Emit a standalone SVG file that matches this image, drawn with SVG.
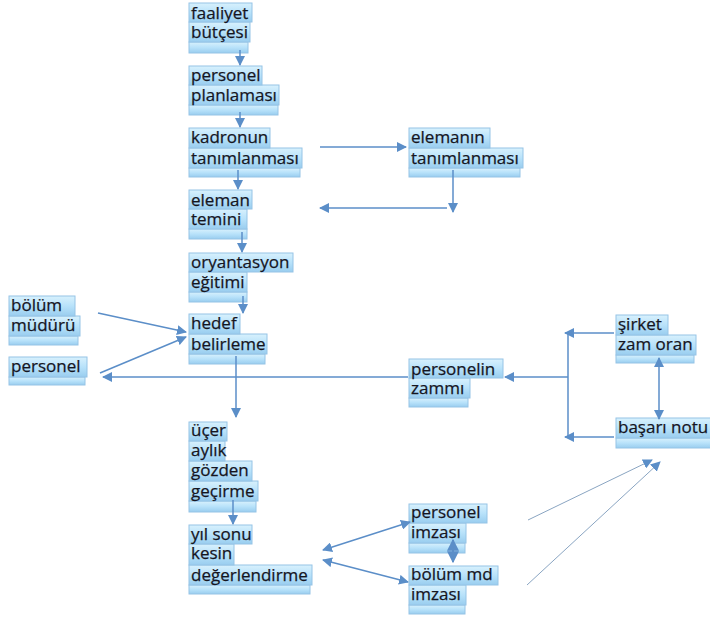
<svg xmlns="http://www.w3.org/2000/svg" width="710" height="620" viewBox="0 0 710 620">
<defs>
<linearGradient id="g" x1="0" y1="0" x2="0" y2="1">
<stop offset="0" stop-color="#d8f1fd"/>
<stop offset="0.5" stop-color="#b8e2fa"/>
<stop offset="1" stop-color="#99cdef"/>
</linearGradient>
<marker id="ah" viewBox="0 0 10 10" refX="9" refY="5" markerWidth="10" markerHeight="10" markerUnits="userSpaceOnUse" orient="auto-start-reverse">
<path d="M0,0 L10,5 L0,10 z" fill="#5b8ec8"/>
</marker>
<marker id="ah2" viewBox="0 0 10 10" refX="9" refY="5" markerWidth="12" markerHeight="12" markerUnits="userSpaceOnUse" orient="auto-start-reverse">
<path d="M0,0 L10,5 L0,10 z" fill="#5b8ec8"/>
</marker>
</defs>
<style>
.b{fill:url(#g);stroke:#96c4e6;stroke-width:1}
.s{fill:url(#g);stroke:#96c4e6;stroke-width:1}
.t{font-family:"Open Sans","Liberation Sans",sans-serif;font-size:17px;fill:#15151f;stroke:#15151f;stroke-width:0.25}
.c{fill:none;stroke:#5b8ec8;stroke-width:1.5}
.c1{marker-end:url(#ah)}
.c2{marker-start:url(#ah);marker-end:url(#ah)}
.th{fill:none;stroke:#8aa5c2;stroke-width:1}
</style>
<rect width="710" height="620" fill="#ffffff"/>

<g id="faaliyet-butcesi">
<rect class="s" x="189" y="42" width="59" height="11"/>
<rect class="b" x="189" y="22" width="61" height="20"/>
<rect class="b" x="189" y="3" width="63" height="19"/>
<text class="t" x="191" y="19">faaliyet</text>
<text class="t" x="191" y="38">bütçesi</text>
</g>

<g id="personel-planlamasi">
<rect class="s" x="189" y="105" width="89" height="10"/>
<rect class="b" x="189" y="85" width="90" height="20"/>
<rect class="b" x="189" y="66" width="73" height="19"/>
<text class="t" x="191" y="81">personel</text>
<text class="t" x="191" y="101">planlaması</text>
</g>

<g id="kadronun-tanimlanmasi">
<rect class="s" x="189" y="168" width="111" height="9"/>
<rect class="b" x="189" y="148" width="113" height="20"/>
<rect class="b" x="189" y="128" width="81" height="20"/>
<text class="t" x="191" y="143">kadronun</text>
<text class="t" x="191" y="164">tanımlanması</text>
</g>

<g id="eleman-temini">
<rect class="s" x="189" y="229" width="58" height="10"/>
<rect class="b" x="189" y="209" width="58" height="20"/>
<rect class="b" x="189" y="190" width="63" height="19"/>
<text class="t" x="191" y="206">eleman</text>
<text class="t" x="191" y="225">temini</text>
</g>

<g id="oryantasyon-egitimi">
<rect class="s" x="189" y="292" width="58" height="10"/>
<rect class="b" x="189" y="272" width="58" height="20"/>
<rect class="b" x="189" y="253" width="104" height="19"/>
<text class="t" x="191" y="268">oryantasyon</text>
<text class="t" x="191" y="288">eğitimi</text>
</g>

<g id="hedef-belirleme">
<rect class="s" x="189" y="354" width="76" height="10"/>
<rect class="b" x="189" y="334" width="78" height="20"/>
<rect class="b" x="189" y="314" width="51" height="20"/>
<text class="t" x="191" y="329">hedef</text>
<text class="t" x="191" y="350">belirleme</text>
</g>

<g id="ucer-aylik">
<rect class="s" x="189" y="501" width="67" height="11"/>
<rect class="b" x="189" y="481" width="69" height="20"/>
<rect class="b" x="189" y="461" width="63" height="20"/>
<rect class="b" x="189" y="441" width="36" height="20"/>
<rect class="b" x="189" y="422" width="38" height="19"/>
<text class="t" x="191" y="436">üçer</text>
<text class="t" x="191" y="456">aylık</text>
<text class="t" x="191" y="476">gözden</text>
<text class="t" x="191" y="497">geçirme</text>
</g>

<g id="yil-sonu">
<rect class="s" x="189" y="585" width="121" height="9"/>
<rect class="b" x="189" y="565" width="123" height="20"/>
<rect class="b" x="189" y="544" width="45" height="21"/>
<rect class="b" x="189" y="525" width="63" height="19"/>
<text class="t" x="191" y="540">yıl sonu</text>
<text class="t" x="191" y="559">kesin</text>
<text class="t" x="191" y="581">değerlendirme</text>
</g>

<g id="elemanin-tanimlanmasi">
<rect class="s" x="409" y="168" width="111" height="9"/>
<rect class="b" x="409" y="148" width="114" height="20"/>
<rect class="b" x="409" y="128" width="81" height="20"/>
<text class="t" x="411" y="143">elemanın</text>
<text class="t" x="411" y="164">tanımlanması</text>
</g>

<g id="bolum-muduru">
<rect class="s" x="9" y="336" width="69" height="9"/>
<rect class="b" x="9" y="316" width="71" height="20"/>
<rect class="b" x="9" y="296" width="66" height="20"/>
<text class="t" x="11" y="311">bölüm</text>
<text class="t" x="11" y="331">müdürü</text>
</g>

<g id="personel-left">
<rect class="s" x="9" y="377" width="76" height="8"/>
<rect class="b" x="9" y="357" width="78" height="20"/>
<text class="t" x="11" y="372">personel</text>
</g>

<g id="personelin-zammi">
<rect class="s" x="409" y="398" width="59" height="9"/>
<rect class="b" x="409" y="378" width="61" height="20"/>
<rect class="b" x="409" y="359" width="94" height="19"/>
<text class="t" x="411" y="375">personelin</text>
<text class="t" x="411" y="394">zammı</text>
</g>

<g id="sirket-zam-orani">
<rect class="s" x="616" y="355" width="78" height="8"/>
<rect class="b" x="616" y="335" width="80" height="20"/>
<rect class="b" x="616" y="315" width="52" height="20"/>
<text class="t" x="618" y="330">şirket</text>
<text class="t" x="618" y="350">zam oran</text>
</g>

<g id="basari-notu">
<rect class="s" x="616" y="438" width="96" height="10"/>
<rect class="b" x="616" y="418" width="96" height="20"/>
<text class="t" x="618" y="433">başarı notu</text>
</g>

<g id="personel-imzasi">
<rect class="s" x="409" y="543" width="56" height="10"/>
<rect class="b" x="409" y="523" width="57" height="20"/>
<rect class="b" x="409" y="504" width="78" height="19"/>
<text class="t" x="411" y="518">personel</text>
<text class="t" x="411" y="538">imzası</text>
</g>

<g id="bolum-md-imzasi">
<rect class="s" x="409" y="605" width="56" height="9"/>
<rect class="b" x="409" y="585" width="57" height="20"/>
<rect class="b" x="409" y="566" width="89" height="19"/>
<text class="t" x="411" y="580">bölüm md</text>
<text class="t" x="411" y="600">imzası</text>
</g>

<g id="connectors">
<path class="c c1" d="M240,50 V65"/>
<path class="c c1" d="M240,112 V127"/>
<path class="c c1" d="M238,170 V189"/>
<path class="c c1" d="M242,232 V252"/>
<path class="c c1" d="M243,296 V313"/>
<path class="c c1" d="M236,356 V417"/>
<path class="c c1" d="M233,500 V524"/>
<path class="c c1" d="M320,147 H406"/>
<path class="c c1" d="M453,170 V212"/>
<path class="c c1" d="M447,208 H320"/>
<path class="c c1" d="M98,313 L186,332"/>
<path class="c c1" d="M100,373 L186,337"/>
<path class="c c1" d="M408,377 H103"/>
<path class="c c1" d="M568,377 H505"/>
<path class="c" d="M568,333 V437"/>
<path class="c c1" d="M614,333 H565"/>
<path class="c c1" d="M614,437 H565"/>
<path class="c c2" d="M659,358 V419"/>
<path class="c c2" d="M323,550 L410,522"/>
<path class="c c2" d="M323,560 L408,582"/>
<path class="c" d="M453,540 V562" style="marker-start:url(#ah2);marker-end:url(#ah2);stroke-width:2"/>
<path class="th" d="M528,520 L652,460" marker-end="url(#ah)"/>
<path class="th" d="M527,585 L660,462" marker-end="url(#ah)"/>
</g>
</svg>
